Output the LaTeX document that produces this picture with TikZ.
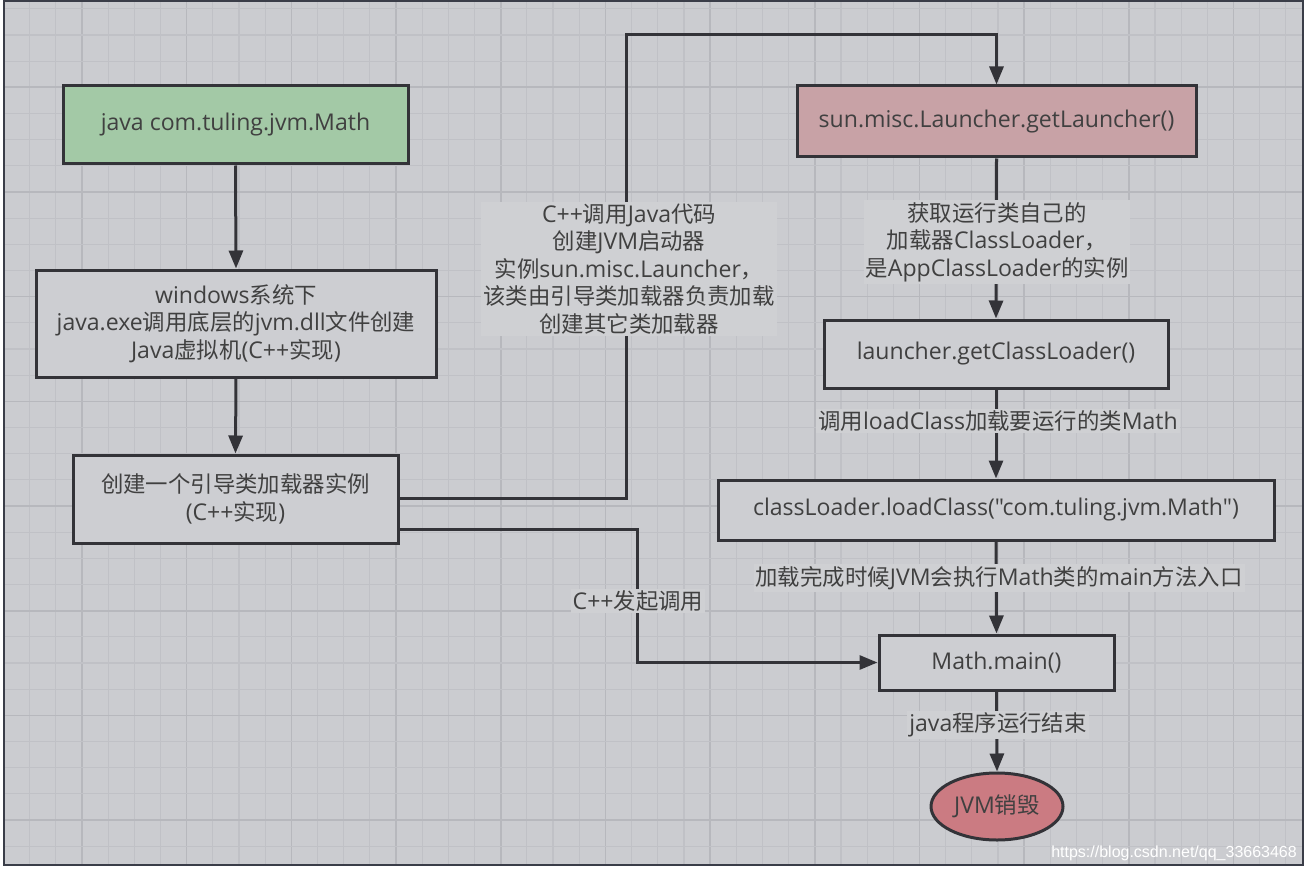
\documentclass[tikz,border=0pt]{standalone}
\usepackage{fontspec}
\newfontfamily\latf{Open Sans}[Scale=1.03]
\newfontfamily\cjk{Noto Sans CJK SC}
\newfontfamily\wmfont{Liberation Sans}
\newcommand\zh[1]{{\cjk #1}}
\usetikzlibrary{arrows.meta,shapes.geometric}
\definecolor{bgc}{HTML}{CBCCD0}
\definecolor{gthin}{HTML}{C0C1C6}
\definecolor{gthick}{HTML}{B7B8BD}
\definecolor{boxc}{HTML}{CDCED2}
\definecolor{greenc}{HTML}{A3C9A6}
\definecolor{redc}{HTML}{C8A2A6}
\definecolor{ellc}{HTML}{CB7B82}
\definecolor{linec}{HTML}{333338}
\definecolor{txtc}{HTML}{404040}
\definecolor{lblbg}{HTML}{CFD0D3}
\definecolor{framec}{HTML}{3A3D48}
\tikzset{
  box/.style={draw=linec, line width=3pt, fill=boxc, rectangle, inner sep=0pt,
    align=center, text=txtc, font=\latf\fontsize{22.4}{27.5}\selectfont},
  lbl/.style={fill=lblbg, inner sep=2pt, align=center, text=txtc,
    font=\latf\fontsize{22.4}{27.5}\selectfont},
  arr/.style={draw=linec, line width=3pt, -{Triangle[length=18pt,width=14pt]}},
}
\begin{document}
\begin{tikzpicture}[x=1pt,y=-1pt]
\useasboundingbox (0,0) rectangle (1307,872);
\fill[white] (0,0) rectangle (1307,872);
\fill[bgc] (4,1) rectangle (1303,865);
\begin{scope}
\clip (4,1) rectangle (1303,865);
\foreach \i in {-3,...,46} {
  \pgfmathsetmacro\xx{82+26.17*\i}
  \pgfmathtruncatemacro\mm{mod(\i+40,4)}
  \ifnum\mm=0
    \draw[gthick, line width=1.6pt] (\xx,1) -- (\xx,865);
  \else
    \draw[gthin, line width=1.2pt] (\xx,1) -- (\xx,865);
  \fi
}
\foreach \i in {-3,...,30} {
  \pgfmathsetmacro\yy{87.3+26.17*\i}
  \pgfmathtruncatemacro\mm{mod(\i+40,4)}
  \ifnum\mm=0
    \draw[gthick, line width=1.6pt] (4,\yy) -- (1303,\yy);
  \else
    \draw[gthin, line width=1.2pt] (4,\yy) -- (1303,\yy);
  \fi
}
\end{scope}
\draw[framec, line width=2pt] (4,1) rectangle (1303,865);

% nodes
\node[box, fill=greenc, minimum width=345pt, minimum height=78pt] (java) at (235.5,125) {java com.tuling.jvm.Math};
\node[box, minimum width=400pt, minimum height=107pt] (win) at (236,323.5) {windows\zh{系统下}\\java.exe\zh{调用底层的}jvm.dll\zh{文件创建}\\Java\zh{虚拟机}(C++\zh{实现})};
\node[box, minimum width=325pt, minimum height=88pt] (boot) at (235.5,499) {\zh{创建一个引导类加载器实例}\\(C++\zh{实现})};
\node[box, fill=redc, minimum width=399pt, minimum height=71pt] (launch) at (996.5,121.5) {sun.misc.Launcher.getLauncher()};
\node[box, minimum width=344pt, minimum height=68pt] (getcl) at (996,354) {launcher.getClassLoader()};
\node[box, minimum width=556pt, minimum height=60pt] (load) at (996,510) {classLoader.loadClass("com.tuling.jvm.Math")};
\node[box, minimum width=235pt, minimum height=55pt] (main) at (996.5,662.5) {Math.main()};
\node[box, ellipse, fill=ellc, minimum width=132pt, minimum height=67pt] (jvmend) at (997,806.5) {JVM\zh{销毁}};

% connectors
\coordinate (c1) at (626,35);
\coordinate (c2) at (637,600);
\draw[arr] ([yshift=1pt]boot.east) -| (c1) -| (launch.north);
\draw[arr] ([yshift=-30pt]boot.east) -| (c2 |- main.west) -- (main.west);
\draw[arr] (java.south) -- (win.north);
\draw[arr] (win.south) -- (boot.north);
\draw[arr] (launch.south) -- (getcl.north);
\draw[arr] (getcl.south) -- (load.north);
\draw[arr] (load.south) -- (main.north);
\draw[arr] (main.south) -- (jvmend.north);

% labels
\node[lbl] (l1) at (629,269) {C++\zh{调用}Java\zh{代码}\\\zh{创建}JVM\zh{启动器}\\\zh{实例}sun.misc.Launcher\zh{，}\\\zh{该类由引导类加载器负责加载}\\\zh{创建其它类加载器}};
\node[lbl] (l2) at (638,601) {C++\zh{发起调用}};
\node[lbl] (l3) at (997,242) {\zh{获取运行类自己的}\\\zh{加载器}ClassLoader\zh{，}\\\zh{是}AppClassLoader\zh{的实例}};
\node[lbl] (l4) at (998,421) {\zh{调用}loadClass\zh{加载要运行的类}Math};
\node[lbl] (l5) at (999,578) {\zh{加载完成时候}JVM\zh{会执行}Math\zh{类的}main\zh{方法入口}};
\node[lbl] (l6) at (998,725) {java\zh{程序运行结束}};

\node[anchor=east, text=white, font=\wmfont\fontsize{16}{18}\selectfont, inner sep=0pt] (wm) at (1297,853) {https://blog.csdn.net/qq\_33663468};
\end{tikzpicture}
\end{document}
